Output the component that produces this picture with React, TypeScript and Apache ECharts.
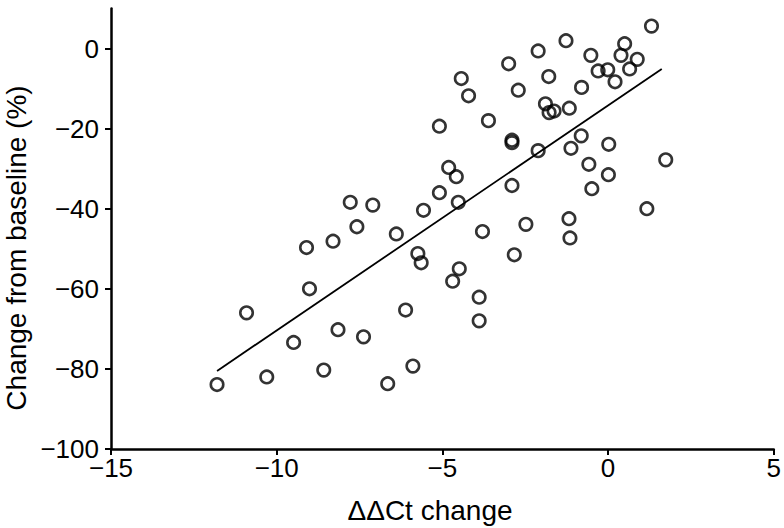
import React, { useEffect, useRef } from "react";
import * as echarts from "echarts";

// ΔΔCt change (x) and Change from baseline % (y)
const deltaCt: number[] = [
  1.31, 0.5, 0.39, 0.88, 0.65, -0.01, -0.3, 0.21, -0.52, -1.27,
  -2.11, -3.0, -1.79, -0.8, -2.71, -4.43, -4.21, -1.89, -1.78, -1.63,
  -1.17, -5.09, -3.61, -2.9, -2.9, -2.11, -0.81, -1.12, 0.02, 1.74,
  -0.58, 0.01, -0.49, 1.17, -2.9, -4.81, -4.58, -5.09, -4.52, -5.57,
  -3.79, -2.48, -1.18, -1.15, -2.83, -4.49, -4.69, -3.89, -3.89, -5.74,
  -5.64, -5.89, -11.8, -10.91, -10.3, -9.49, -9.1, -9.01, -8.58, -8.3,
  -8.15, -7.58, -7.38, -6.39, -6.11, -6.65, -7.78, -7.1,
];
const changePct: number[] = [
  5.6, 1.2, -1.7, -2.7, -5.1, -5.3, -5.6, -8.3, -1.7, 1.95,
  -0.6, -3.8, -7.0, -9.7, -10.4, -7.5, -11.8, -13.8, -16.0, -15.6,
  -14.9, -19.4, -18.0, -22.9, -23.5, -25.5, -21.8, -24.9, -23.9, -27.8,
  -28.9, -31.5, -35.0, -40.0, -34.2, -29.7, -32.0, -36.0, -38.4, -40.4,
  -45.7, -43.9, -42.5, -47.3, -51.5, -55.0, -58.1, -62.1, -68.0, -51.2,
  -53.5, -79.3, -83.9, -66.0, -82.0, -73.4, -49.7, -60.0, -80.3, -48.1,
  -70.2, -44.5, -72.0, -46.3, -65.3, -83.7, -38.4, -39.1,
];

// Fitted regression line endpoints
const fitX: number[] = [-11.8, 1.62];
const fitY: number[] = [-80.5, -5.1];

const xTicks: number[] = [-15, -10, -5, 0, 5];
const yTicks: number[] = [-100, -80, -60, -40, -20, 0];

const xTitle = "ΔΔCt change";
const yTitle = "Change from baseline (%)";

const FONT = "'Liberation Sans', Arial, Helvetica, sans-serif";
const fmt = (v: number) => (v < 0 ? "\u2212" + Math.abs(v) : String(v));

export default function App() {
  const ref = useRef<HTMLDivElement>(null);
  useEffect(() => {
    if (!ref.current) return;
    const chart = echarts.init(ref.current, undefined, { renderer: "svg" });
    const axisCommon = {
      axisLine: { show: true, onZero: false, lineStyle: { color: "#000", width: 2.5 } },
      axisTick: { show: true, inside: false, length: 6, lineStyle: { color: "#000", width: 2 } },
      splitLine: { show: false },
    };
    chart.setOption({
      animation: false,
      backgroundColor: "#fff",
      grid: { left: 111, right: 10, top: 8.5, bottom: 79, containLabel: false },
      xAxis: {
        type: "value",
        min: -15,
        max: 5,
        interval: 5,
        ...axisCommon,
        axisTick: { ...axisCommon.axisTick, customValues: xTicks },
        axisLabel: {
          customValues: xTicks,
          formatter: fmt,
          color: "#000",
          fontSize: 26,
          fontFamily: FONT,
          margin: 6,
        },
      },
      yAxis: {
        type: "value",
        min: -100,
        max: 10,
        interval: 20,
        ...axisCommon,
        axisTick: { ...axisCommon.axisTick, customValues: yTicks },
        axisLabel: {
          customValues: yTicks,
          formatter: fmt,
          color: "#000",
          fontSize: 26,
          fontFamily: FONT,
          margin: 12,
        },
      },
      graphic: [
        {
          type: "text",
          x: 430,
          y: 510,
          style: {
            text: xTitle,
            fontSize: 28,
            fontFamily: FONT,
            fill: "#000",
            align: "center",
            verticalAlign: "middle",
          },
        },
        {
          type: "text",
          x: 16,
          y: 248,
          rotation: Math.PI / 2,
          style: {
            text: yTitle,
            fontSize: 28,
            fontFamily: FONT,
            fill: "#000",
            align: "center",
            verticalAlign: "middle",
          },
        },
      ],
      series: [
        {
          type: "line",
          data: fitX.map((x, i) => [x, fitY[i]]),
          showSymbol: false,
          lineStyle: { color: "#000", width: 1.8 },
          z: 2,
        },
        {
          type: "scatter",
          data: deltaCt.map((x, i) => [x, changePct[i]]),
          symbol: "circle",
          symbolSize: 12.5,
          itemStyle: { color: "rgba(255,255,255,0)", borderColor: "#000", borderWidth: 2.6 },
          z: 3,
        },
      ],
    });
    return () => chart.dispose();
  }, []);
  return (
    <div
      ref={ref}
      style={{ position: "absolute", left: 0, top: 0, width: 784, height: 528 }}
    />
  );
}
